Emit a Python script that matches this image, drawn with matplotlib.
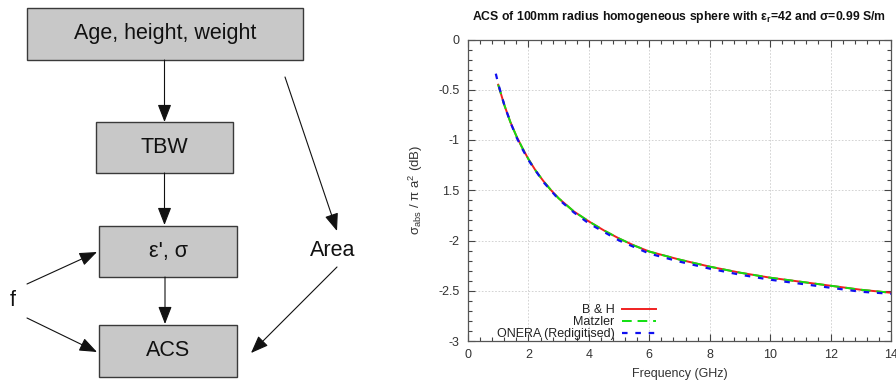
import matplotlib
matplotlib.use("Agg")
import matplotlib.pyplot as plt
from matplotlib.patches import Rectangle

plt.rcParams['font.family'] = ['Liberation Sans', 'DejaVu Sans']
plt.rcParams['mathtext.fontset'] = 'custom'
plt.rcParams['mathtext.rm'] = 'Liberation Sans'
plt.rcParams['mathtext.it'] = 'Liberation Sans'
plt.rcParams['mathtext.default'] = 'regular'

# ---- curve data ----
freq_bh = [1.0, 1.2, 1.4, 1.6, 1.8, 2.0, 2.25, 2.5, 2.75, 3.0, 3.5, 4.0, 4.5,
           5.0, 5.5, 6.0, 7.0, 8.0, 9.0, 10.0, 11.0, 12.0, 13.0, 14.0]
acs_bh = [-0.45, -0.65, -0.82, -0.96, -1.08, -1.19, -1.31, -1.41, -1.50, -1.58,
          -1.71, -1.81, -1.90, -1.98, -2.05, -2.11, -2.19, -2.26, -2.32, -2.37,
          -2.41, -2.45, -2.49, -2.52]
freq_matzler = freq_bh
acs_matzler = [-0.45, -0.65, -0.82, -0.96, -1.08, -1.19, -1.31, -1.41, -1.50, -1.58,
               -1.71, -1.81, -1.90, -1.98, -2.05, -2.11, -2.19, -2.26, -2.32, -2.37,
               -2.41, -2.45, -2.49, -2.52]
freq_onera = [0.92, 1.0, 1.2, 1.4, 1.6, 1.8, 2.0, 2.5, 3.0, 3.5, 4.0, 5.0, 6.0,
              7.0, 8.0, 9.0, 10.0, 11.0, 12.0, 13.0, 14.0]
acs_onera = [-0.34, -0.44, -0.65, -0.82, -0.97, -1.09, -1.20, -1.42, -1.59, -1.72,
             -1.83, -2.00, -2.13, -2.21, -2.28, -2.34, -2.39, -2.43, -2.47, -2.51, -2.53]

x_ticks = [0, 2, 4, 6, 8, 10, 12, 14]
y_ticks = [0, -0.5, -1, -1.5, -2, -2.5, -3]
y_tick_labels = ['0', '-0.5', '-1', '1.5', '-2', '-2.5', '-3']

# ---- flow diagram (pixel coordinates) ----
boxes = [  # x0, y0, x1, y1, label
    (27, 8, 303, 60, 'Age, height, weight'),
    (96, 122, 233, 173, 'TBW'),
    (99, 226, 237, 277, "ε', σ"),
    (99, 325, 237, 377, 'ACS'),
]
free_labels = [(333, 250, 'Area'), (13, 300, 'f')]
arrows = [  # start, end
    ((164.5, 60), (164.5, 122)),
    ((164.5, 173), (164.5, 225)),
    ((165, 277), (165, 324)),
    ((285, 77), (337, 231)),
    ((337, 267), (251, 353)),
    ((27, 284), (97, 252)),
    ((27, 318), (97, 352)),
]

fig = plt.figure(figsize=(8.96, 3.83), dpi=100)

diag = fig.add_axes([0, 0, 380 / 896, 1])
diag.set_xlim(0, 380)
diag.set_ylim(383, 0)
diag.axis('off')

for x0, y0, x1, y1, label in boxes:
    diag.add_patch(Rectangle((x0, y0), x1 - x0, y1 - y0, facecolor='#c8c8c8',
                             edgecolor='#3a3a3a', linewidth=1))
    diag.text((x0 + x1) / 2, (y0 + y1) / 2, label, ha='center', va='center',
              fontsize=15.5, color='#111111')
for x, y, label in free_labels:
    diag.text(x, y, label, ha='center', va='center', fontsize=15.5, color='#111111')
for start, end in arrows:
    diag.annotate('', xy=end, xytext=start,
                  arrowprops=dict(arrowstyle='-|>,head_length=0.9,head_width=0.35',
                                  mutation_scale=12, color='#111111', lw=0.8,
                                  shrinkA=0, shrinkB=0))

# ---- ACS chart ----
ax = fig.add_axes([468 / 896, 42 / 383, 423 / 896, 301.5 / 383])
ax.plot(freq_bh, acs_bh, color='#f02020', lw=1.4, label='B & H')
ax.plot(freq_matzler, acs_matzler, color='#10e010', lw=1.4, dashes=(5, 3), label='Matzler')
ax.plot(freq_onera, acs_onera, color='#1010f0', lw=1.6, dashes=(2.5, 3.5),
        label='ONERA (Redigitised)')

ax.set_xlim(0, 14)
ax.set_ylim(-3, 0)
ax.set_xticks(x_ticks)
ax.set_xticks([i * 0.4 for i in range(36)], minor=True)
ax.set_yticks(y_ticks)
ax.set_yticklabels(y_tick_labels)
ax.set_yticks([-i * 0.1 for i in range(31)], minor=True)
ax.tick_params(which='both', direction='in', top=True, right=True,
               labelsize=9, labelcolor='#333333', color='#444444', width=0.8)
ax.tick_params(which='major', length=5, pad=6)
ax.tick_params(which='minor', length=3)
ax.grid(True, which='major', color='#cccccc', linestyle=(0, (2, 2)), lw=0.6)
for s in ax.spines.values():
    s.set_color('#555555')
    s.set_linewidth(0.9)

ax.set_title(r'ACS of 100mm radius homogeneous sphere with $\epsilon_r$=42 and $\sigma$=0.99 S/m',
             fontsize=8.8, fontweight='bold', pad=14, color='#111111')
ax.set_xlabel('Frequency (GHz)', fontsize=9, color='#333333', labelpad=5)
ax.set_ylabel(r'$\sigma_{abs}$ / $\pi$ a$^2$ (dB)', fontsize=9.5, color='#333333', labelpad=10)

ax.legend(loc='lower right', bbox_to_anchor=(656 / 896, 43 / 383),
          bbox_transform=fig.transFigure, frameon=False, markerfirst=False,
          alignment='right', fontsize=9, labelspacing=0.0, handlelength=2.7,
          handletextpad=0.6, borderpad=0, borderaxespad=0, labelcolor='#222222')

fig.savefig('out.png', dpi=100)
